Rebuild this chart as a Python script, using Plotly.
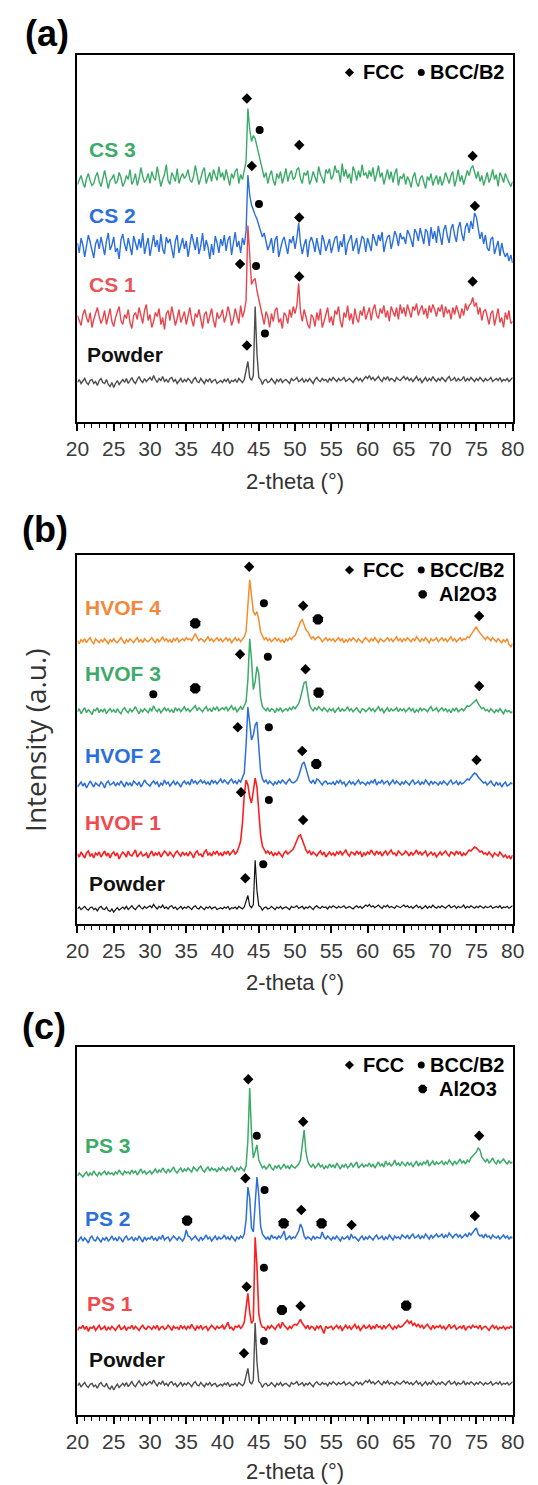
import numpy as np
import plotly.graph_objects as go

FIG_W, FIG_H = 538, 1485

# 2-theta sampling grid (deg), 0.25 deg step
two_theta = np.linspace(20, 80, 241)

# ---- diffractogram intensities (a.u., background-relative) ----
powder_counts = [
    -1, 2, -2, 0, 3, -1, -3, 1, 2, -2, 0, -4, 1, 3, -1, -2, 2, -3, -5, -1,
    -6, -2, 1, -3, 0, 2, -1, 3, -2, 1, 4, 0, -2, 2, 5, 1, -1, 3, 0, 2,
    4, 1, 6, 2, -1, 3, 1, 5, 0, 2, -1, 3, 4, 0, 2, -2, 1, 3, -1, 2,
    0, 3, 1, -2, 2, 4, 0, -1, 3, 1, -2, 2, 0, 3, -1, 1, 2, -2, 0, 1,
    -1, 2, 0, 3, -2, 1, 0, 2, -1, 3, 1, -1, 2, 12, 20, 4, 1, 6, 75, 28,
    4, 2, -3, 1, 2, -1, 0, 3, 1, -2, 2, 0, 3, -1, 1, 2, 0, -2, 3, 1,
    2, 4, 0, 1, 3, -1, 2, 0, 3, 1, -2, 2, 4, 1, 0, 3, 1, 2, -1, 3,
    1, 4, 2, 0, 3, 1, 2, 4, 0, 2, 3, 1, -1, 2, 4, 1, 3, 0, 2, 5,
    3, 6, 2, 4, 1, 3, 5, 2, 0, 4, 2, 5, 1, 3, 2, 0, 4, 2, 1, 3,
    5, 2, 4, 1, 3, 0, 2, 5, 1, 3, -1, 2, 4, 0, 3, 1, 5, 2, 0, 3,
    1, 4, 2, 0, 3, 5, 1, 2, 4, 0, 3, 1, 2, 5, 0, 3, 1, 4, 2, 0,
    3, 1, 4, 2, 0, 3, 1, 2, 4, 0, 2, 3, 1, 4, 0, 2, 1, 3, 0, 2,
    4,
]

cs1_counts = [
    3, -2, -7, 4, 9, 1, -4, 6, -9, -1, 5, 11, 2, -5, 0, 8, -6, 3, 10, -3,
    -8, 1, 7, 12, -2, -6, 4, 0, 9, -4, -10, 3, 6, -1, 11, 2, -5, 8, 14, -2,
    4, -9, -3, 6, 2, 10, -6, 1, -11, 5, 8, -2, 12, 3, -7, 0, 9, -4, 2, 7,
    -6, 3, 11, -1, -8, 5, 1, 9, -3, -10, 4, 7, -5, 2, 10, -2, -9, 6, 0, 3,
    9, -4, 2, 12, 5, -7, -1, 10, 3, -5, 13, 1, 7, 18, 93, 58, 34, 38, 40, 28,
    20, 10, 4, -6, 7, 2, -9, 5, -3, 8, 11, -4, 0, -10, 6, 3, -5, 9, 1, 12,
    5, 13, 35, 7, -3, 9, 2, -6, -10, 4, 1, -8, 6, -2, 10, -9, -3, 5, 11, -4,
    2, -7, 8, 4, 12, -3, -9, 6, 1, 13, -2, 5, -6, 10, 0, -4, 8, 3, 12, -1,
    6, 11, -2, 9, 14, 3, 0, 10, 5, 13, 1, 8, -3, 12, 7, 2, 11, -1, 14, 5,
    11, 2, 14, 6, 1, 12, 8, 15, 3, 9, 13, 4, 10, 0, 13, 6, 14, 9, 2, 11,
    7, 14, 1, 12, 5, 9, -1, 11, 4, 13, 6, 0, 10, 3, 15, 8, 13, 15, 21, 12,
    16, 4, 11, -2, 7, 9, 2, -6, 5, 8, -7, 3, 10, -4, 1, -9, 6, -1, 8, -5,
    -3,
]

cs2_counts = [
    4, -6, 9, 2, -10, 0, 12, 5, -4, -11, 3, 8, -2, 10, 1, -8, 6, 14, -3, 2,
    10, -5, -1, -12, 7, 13, 3, -4, 9, 0, -8, 11, 5, -3, 8, -1, 14, -7, 2, 9,
    -9, 3, 12, 0, 7, -5, 13, -2, -7, 10, 4, 8, -3, -11, 6, 12, -6, 1, 9, -2,
    6, -10, 2, 13, 5, -3, 10, -7, 1, 14, -4, 7, 0, -12, 3, -8, 11, 4, -6, 8,
    1, 12, -4, 7, 11, -8, 4, 15, 0, 6, -6, 9, 2, 16, 72, 52, 42, 36, 32, 28,
    22, 18, 10, 14, 5, -3, 2, 9, -6, 7, 11, -10, -2, 6, 10, 1, -7, 8, 4, 11,
    -2, 9, 24, 4, -7, 2, 8, -10, 5, 10, 4, -5, 9, -1, -8, 12, 6, -4, 3, 8,
    -6, 1, 9, 11, -5, 6, 0, 13, -8, 3, 8, 12, -4, 2, 9, -7, 4, 11, 8, -5,
    9, 3, -4, 13, 8, 1, 12, 6, 15, -5, 4, 10, 12, -2, 6, 16, 11, 1, 14, 8,
    10, 3, 17, 13, 7, 0, 18, 14, 6, 19, 11, 3, 18, 15, 1, 20, 8, 16, 4, 21,
    12, 2, 17, 22, 11, 4, 18, 23, 12, 5, 19, 25, 13, 6, 20, 24, 14, 26, 18, 34,
    30, 18, 8, 15, 3, 12, -1, -4, 8, 10, -7, 0, 6, -9, 4, -5, -10, -6, -14, -8,
    -16,
]

cs3_counts = [
    -3, 2, 6, -1, -6, 3, 8, 1, -4, -2, 5, 9, 0, -5, 4, 11, 2, -7, 1, 3,
    7, -2, 0, 9, 4, -5, -1, 6, 2, 12, -3, 1, 8, -4, 3, 14, 5, -1, 2, 8,
    -2, 10, 4, 1, 15, 3, -5, 2, 7, 17, 1, -3, 9, 5, 0, 13, -2, 4, 8, 3,
    6, 12, 2, -1, 5, 16, 8, -3, 3, 10, 14, -2, 4, 9, 0, 12, 6, 1, 15, 4,
    9, 1, 12, 5, -4, 8, 3, 10, 13, -2, 7, 2, 11, 20, 73, 52, 40, 46, 43, 35,
    26, 17, 12, 4, 9, -2, 6, 11, 1, -4, 8, 3, 10, -2, 5, 13, 0, 7, 11, 2,
    4, 12, 14, 3, -2, 9, 6, 11, -3, 2, 10, 5, -1, 15, 7, 3, -2, 12, 8, 13,
    2, 6, 16, 9, 11, -1, 18, 5, 12, 3, 8, -2, 15, 10, 1, 11, 4, 17, 6, 9,
    3, 11, 5, 14, 0, 7, 16, 4, 9, -3, 6, 12, 2, 10, -1, 8, 13, -4, 5, 3,
    8, -3, 5, 1, -6, 4, 9, -1, -5, 3, 6, -2, -7, 5, 1, 8, -4, 2, 6, -3,
    5, -4, 1, 9, 3, -2, 6, 10, -5, 2, 12, 0, 6, -3, 4, 11, 6, 13, 16, 8,
    3, 10, 0, 6, -4, 2, 9, -1, 4, 12, 2, 7, -5, 9, 5, -1, 8, 3, -2, -5,
    0,
]

hvof1_counts = [
    1, -2, 3, 0, -3, 2, 4, -1, 1, -3, 2, 0, 3, -2, 1, 4, -1, 2, -3, 1,
    3, -1, 2, -4, 0, 3, 1, -2, 4, 0, -1, 2, 5, -2, 1, 3, -1, 0, 2, -3,
    1, 4, -1, 2, 0, 3, -2, 1, 4, 2, -1, 3, 0, -2, 2, 4, 1, -1, 3, 0,
    2, -1, 3, 1, -3, 2, 4, 0, 1, -2, 3, 5, 0, 2, -1, 3, 1, 4, 0, 2,
    -1, 3, 1, 4, 0, 2, 5, 1, 3, 8, 14, 32, 60, 75, 70, 58, 52, 64, 77, 68,
    42, 20, 9, 5, 2, 4, 1, 3, -1, 2, 0, 3, 1, -2, 2, 4, 1, 3, 4, 6,
    10, 15, 19, 20, 15, 9, 5, 2, 4, 0, 3, 1, -1, 2, 4, 0, 3, -2, 1, 3,
    0, 2, -1, 3, 1, 4, 0, 2, 5, 1, -1, 3, 2, 0, 4, 1, 3, -2, 2, 0,
    3, 1, 5, 2, 0, 4, 1, 3, -1, 2, 4, 0, 3, 5, 1, 2, -1, 4, 2, 0,
    1, 4, 2, -1, 3, 0, 2, 5, 1, 3, 0, 2, 4, -1, 1, 3, 0, 2, -2, 1,
    3, 0, 2, 4, 1, -1, 3, 2, 0, 4, 1, 3, -1, 2, 0, 3, 5, 4, 6, 8,
    7, 5, 3, 4, 1, 2, 0, 3, 1, -2, 2, 0, -1, 3, 1, -2, 0, -3, -1, -4,
    0,
]

hvof2_counts = [
    -2, 1, 3, -1, 2, -3, 0, 4, 1, -2, 2, 0, -1, 3, 1, -3, 2, 4, 0, 1,
    3, -1, 2, 0, 4, 1, -2, 3, 0, 2, -1, 4, 2, 0, 3, -2, 1, 5, 2, 0,
    -1, 2, 4, 1, 3, -2, 2, 0, 5, 1, 3, -1, 2, 4, 0, 3, 1, -2, 2, 4,
    1, 3, 0, 6, 2, 4, 1, 3, 5, 2, 4, 1, 3, 0, 5, 2, 4, 1, 3, 6,
    2, 5, 3, 1, 4, 6, 2, 4, 1, 5, 3, 7, 12, 40, 78, 62, 45, 50, 60, 63,
    38, 14, 6, 3, 5, 1, 4, 2, 0, 3, 1, 4, 2, 5, 3, 1, 4, 6, 3, 2,
    3, 5, 9, 15, 21, 23, 16, 9, 4, 2, 5, 1, 6, 5, 2, 0, 3, 4, 1, 2,
    1, 3, 0, 4, 2, 5, 1, 3, -1, 2, 4, 1, 3, 0, 2, 5, 1, 3, 2, 0,
    3, 1, 4, 2, 6, 0, 3, 2, 5, 1, 3, 4, 0, 2, 5, 1, 4, 2, 0, 3,
    1, 4, 2, 0, 3, 5, 1, 2, 4, 0, 3, 1, 5, 2, 0, 4, 1, 3, 2, 0,
    3, 1, 4, 2, 0, 3, 5, 1, 2, 4, 0, 3, 1, 2, 4, 6, 5, 8, 10, 12,
    11, 8, 6, 4, 2, 3, 0, 2, 4, 1, -1, 3, 0, 2, -2, 1, 3, -1, 0, 2,
    1,
]

hvof3_counts = [
    0, 3, -2, 1, 4, -1, 2, 0, -3, 2, 1, 4, -1, 2, 0, 3, -2, 1, 3, 0,
    2, -1, 3, 0, -2, 2, 4, 1, -1, 3, 0, 2, 5, 1, -2, 2, 0, 3, 1, -1,
    3, 1, 6, 2, 0, 3, -1, 2, 4, 1, 3, 0, 2, -1, 4, 1, 3, 0, 2, 5,
    1, 3, 0, 2, 4, 6, 1, 4, 2, 0, 3, 5, 1, 3, 0, 4, 2, 5, 1, 3,
    4, 2, 5, 1, 3, 6, 2, 4, 0, 3, 5, 2, 6, 10, 32, 73, 52, 22, 30, 45,
    38, 14, 5, 3, 1, 4, 0, 3, 2, -1, 3, 1, 4, 0, 2, 3, 1, 4, 2, 5,
    3, 5, 8, 14, 22, 29, 30, 16, 7, 3, 1, 4, 2, 5, 3, 1, 4, 2, 0, 3,
    1, 3, -1, 2, 4, 0, 3, 1, 2, 5, 1, 3, 0, 2, 4, 1, -1, 3, 2, 0,
    2, 4, 1, 3, 0, 2, 5, 1, 3, -1, 2, 4, 0, 3, 1, 2, 4, 0, 3, 1,
    3, 0, 2, 4, 1, 3, -1, 2, 0, 4, 1, 3, 2, 0, 3, 5, 1, 2, 4, 0,
    2, 4, 1, 3, 0, 2, -1, 3, 1, 4, 0, 2, 3, 1, 4, 6, 5, 7, 9, 11,
    12, 8, 5, 3, 4, 1, 2, 0, 3, 1, -1, 2, 0, 3, 1, -2, 2, 0, 1, -1,
    0,
]

hvof4_counts = [
    1, -2, 2, 0, 3, -1, 2, 4, 0, -2, 3, 1, -1, 2, 0, 3, 1, -2, 2, 0,
    3, 0, -1, 2, 4, 1, -2, 2, 0, 3, 1, -1, 2, 4, 0, 2, -1, 3, 1, 0,
    2, 4, 1, -1, 3, 0, 2, 5, 1, 3, 0, 2, -1, 3, 1, 4, 0, 2, 3, 1,
    4, 2, 3, 1, 5, 8, 4, 1, 3, 2, 0, 3, 5, 1, 3, 0, 2, 4, 1, 3,
    0, 2, 4, 1, 3, -1, 2, 4, 1, 3, 0, 2, 5, 10, 38, 62, 46, 30, 27, 30,
    22, 10, 6, 2, 4, 1, 3, 0, 2, 4, 1, 3, 0, 2, -1, 3, 1, 4, 2, 5,
    6, 10, 15, 20, 22, 17, 12, 10, 6, 3, 5, 2, 4, 5, 3, 0, 2, 4, 1, 3,
    1, 3, 0, 2, 4, 1, 3, -1, 2, 0, 3, 1, 4, 2, 0, 3, 1, -1, 2, 4,
    2, 0, 3, 1, 4, 2, -1, 3, 1, 0, 2, 4, 1, 3, 0, 2, 5, 1, 3, 0,
    3, 1, 4, 2, 0, 3, 1, 5, 2, 0, 3, 1, 4, 2, -1, 3, 1, 2, 4, 0,
    2, 4, 1, 3, 0, 2, 5, 1, 3, 0, 2, 4, 1, 3, 2, 5, 4, 7, 9, 12,
    15, 11, 9, 7, 4, 2, 5, 3, 1, 4, 2, 0, 3, 1, -1, 2, 0, 3, -3, -5,
    -2,
]

ps1_counts = [
    -2, 1, 0, 3, -1, 2, -3, 1, 0, 2, -2, 1, 3, -1, 0, 2, -2, 1, -1, 2,
    0, -2, 1, 3, -1, 0, 2, -2, 1, 0, 3, -1, 2, 0, -2, 1, 3, 0, -1, 2,
    1, -1, 2, 0, 3, -2, 1, 2, -1, 0, 3, 1, -2, 2, 0, 1, -1, 3, 0, 2,
    -1, 2, 0, 4, 1, -2, 2, 0, 3, -1, 1, 2, -2, 0, 3, 1, -1, 2, 0, 1,
    3, -1, 2, 6, 0, 1, -2, 2, 1, 3, 0, 2, 6, 24, 35, 16, 5, 8, 91, 62,
    15, 5, 1, 1, -2, 2, 0, 3, 1, -1, 2, 4, 0, 6, 3, 1, -1, 2, 0, 3,
    4, 3, 6, 9, 5, 2, 0, 3, -1, 2, 1, -2, 2, 0, 3, -1, -5, 2, 0, 1,
    2, -1, 1, 3, 0, 2, -2, 1, 3, 0, 2, -1, 1, 4, 0, 2, -2, 1, 3, 0,
    1, 3, -1, 2, 0, 4, 1, 2, -1, 3, 0, 2, 4, 1, -1, 2, 0, 3, 1, 2,
    4, 6, 8, 5, 7, 3, 5, 2, 4, 1, 3, 0, 2, 4, 1, -1, 3, 0, 2, 1,
    3, 0, 2, -1, 1, 4, 0, 2, 3, -1, 1, 2, 0, 3, -2, 1, 2, 0, 3, 1,
    2, 0, 3, -1, 1, 2, 0, -2, 1, 3, 0, 2, -1, 1, 0, 2, -1, 1, 0, 2,
    0,
]

ps2_counts = [
    -2, 1, 3, -1, 2, 0, -3, 2, 4, 0, -1, 3, 1, -2, 2, 0, 3, -1, 1, 4,
    0, 2, -1, 3, 1, -2, 2, 4, 0, 1, 3, -1, 2, 0, 4, 1, -2, 3, 0, 2,
    1, 4, 0, 2, -1, 3, 1, 5, 0, 2, 3, -1, 1, 4, 2, 0, 3, 1, -1, 2,
    10, 4, 3, 0, 2, 4, 1, -1, 3, 0, 2, 5, 1, 3, -1, 2, 4, 0, 3, 1,
    2, 5, 1, 3, 0, 4, 2, -1, 3, 1, 4, 2, 6, 20, 53, 42, 12, 8, 36, 63,
    45, 14, 6, 4, 1, 3, 0, 5, 2, 3, 1, 4, 2, 5, 9, 0, 2, 4, 1, 3,
    2, 5, 9, 16, 12, 4, 1, 3, 2, 0, 4, 1, 3, 2, 2, 8, 3, 1, 4, 2,
    0, 3, 1, 4, 2, -1, 3, 1, 2, 4, 0, 6, 2, 3, 1, -1, 2, 4, 0, 3,
    1, 4, 2, 0, 3, 5, 1, 2, 4, 0, 3, 1, 5, 2, 0, 4, 2, 3, 1, 5,
    3, 2, 5, 1, 4, 6, 2, 3, 5, 1, 4, 2, 6, 3, 1, 5, 2, 4, 6, 3,
    4, 6, 2, 5, 3, 7, 4, 2, 5, 6, 3, 5, 2, 4, 6, 3, 7, 5, 8, 10,
    12, 6, 4, 5, 2, 6, 3, 4, 1, 5, 3, 2, 4, 1, 3, 5, 2, 4, 1, 3,
    2,
]

ps3_counts = [
    -6, -3, -5, -7, -4, -2, -6, -3, -5, -1, -4, -6, -2, -5, -3, -1, -5, -2, -4, -3,
    -5, -2, -4, 0, -3, -5, -1, -3, -2, -4, 0, -3, -1, -5, -2, 1, -3, -1, -4, -2,
    -1, -4, -2, 1, -3, 0, -2, 2, -1, -3, 1, -2, 0, 3, -1, -3, 0, 2, -2, 1,
    -1, 2, 0, -2, 3, 1, -1, 2, 4, 0, -2, 1, 3, -1, 2, 0, 1, -2, 2, 0,
    3, 1, -1, 2, 0, 4, 1, -2, 2, 0, 3, 1, -1, 4, 30, 82, 36, 12, 20, 25,
    10, 5, 2, 4, 1, 3, 6, 2, 0, 4, 2, 5, 1, 3, 6, 2, 4, 1, 5, 3,
    2, 4, 6, 10, 28, 40, 18, 9, 5, 3, 6, 2, 4, 7, 3, 5, 1, 4, 2, 6,
    3, 5, 2, 7, 4, 1, 5, 3, 6, 2, 4, 7, 3, 5, 8, 2, 4, 6, 3, 5,
    4, 7, 3, 6, 2, 5, 8, 4, 6, 3, 9, 5, 7, 4, 6, 10, 5, 7, 4, 8,
    6, 4, 8, 5, 7, 3, 6, 9, 4, 7, 5, 8, 6, 10, 4, 7, 9, 5, 8, 6,
    7, 9, 5, 8, 6, 10, 7, 5, 9, 6, 8, 11, 7, 9, 6, 10, 8, 12, 14, 16,
    18, 22, 20, 13, 10, 8, 11, 7, 9, 12, 8, 6, 10, 7, 9, 11, 8, 6, 9, 7,
    8,
]

# ---- phase indexing marks: 2-theta position and height in each panel ----
a_fcc_2theta = [43.36, 50.58, 74.49, 44.04, 50.58, 74.80, 42.42, 50.58, 74.49, 43.36]
a_fcc_level = [323, 276.5, 265.5, 255.5, 204, 215.5, 157.5, 145, 140, 76]
a_bcc_2theta = [45.12, 45.03, 44.63, 45.85]
a_bcc_level = [291.5, 217.5, 155.5, 88]
a_al2o3_2theta = []
a_al2o3_level = []

b_fcc_2theta = [43.68, 51.12, 75.39, 42.42, 51.44, 75.39, 42.10, 50.99, 75.03, 42.55, 51.12, 43.14]
b_fcc_level = [356.8, 317.8, 307.5, 269.2, 254.2, 237.5, 196.2, 172.5, 163.5, 131.2, 103.5, 45.2]
b_bcc_2theta = [45.71, 46.25, 30.46, 46.39, 46.39, 45.62]
b_bcc_level = [320.2, 266.8, 229.2, 196.2, 123.5, 59.2]
b_al2o3_2theta = [36.24, 53.15, 36.24, 53.24, 52.93]
b_al2o3_level = [300.2, 304.2, 235.2, 230.8, 159.5]

c_fcc_2theta = [43.55, 51.12, 75.39, 43.16, 50.86, 57.8, 74.80, 43.32, 50.76, 42.96]
c_fcc_level = [335.2, 292.8, 278.8, 236.2, 204.5, 189.5, 198.5, 127.8, 108.5, 61.2]
c_bcc_2theta = [44.72, 45.80, 45.71, 45.71]
c_bcc_level = [278.8, 224.5, 146.8, 73.5]
c_al2o3_2theta = [35.12, 48.43, 53.66, 48.19, 65.33]
c_al2o3_level = [193.8, 191.2, 191.2, 104.5, 108.8]

for name, arr in [("powder", powder_counts), ("cs1", cs1_counts), ("cs2", cs2_counts),
                  ("cs3", cs3_counts), ("hvof1", hvof1_counts), ("hvof2", hvof2_counts),
                  ("hvof3", hvof3_counts), ("hvof4", hvof4_counts), ("ps1", ps1_counts),
                  ("ps2", ps2_counts), ("ps3", ps3_counts)]:
    if len(arr) != len(two_theta):
        raise ValueError(f"{name}: {len(arr)} points")

# ---- styling ----
GREEN = "#3caa69"
BLUE = "#2b6fdc"
RED_SOFT = "#e8454d"
RED = "#ff1e1e"
ORANGE = "#f68c2c"
GRAY = "#4d4d4d"
BLACK = "#111111"

FONT = "Arial, Liberation Sans, sans-serif"
PLOT_LEFT, PLOT_RIGHT = 68.5, 524.0

panels = [
    dict(tag="(a)", tag_x=11, tag_y=33.5, top=54.5, bottom=421.5, title_y=481,
         series=[
             ("CS 3", cs3_counts, 1.0, 240.0, GREEN, GREEN, 21.35, 272.3, 1.4),
             ("CS 2", cs2_counts, 1.0, 174.5, BLUE, BLUE, 21.35, 205.7, 1.4),
             ("CS 1", cs1_counts, 1.0, 103.0, RED_SOFT, "#ec5359", 21.35, 136.5, 1.4),
             ("Powder", powder_counts, 1.0, 40.0, GRAY, BLACK, 21.0, 67.3, 1.4),
         ],
         fcc=(a_fcc_2theta, a_fcc_level), bcc=(a_bcc_2theta, a_bcc_level),
         al2o3=(a_al2o3_2theta, a_al2o3_level), key_rows=(349,)),
    dict(tag="(b)", tag_x=8, tag_y=529, top=554.5, bottom=923.5, title_y=982,
         series=[
             ("HVOF 4", hvof4_counts, 1.0, 281.8, ORANGE, "#f3883a", 20.82, 316.2, 1.5),
             ("HVOF 3", hvof3_counts, 1.0, 211.8, GREEN, GREEN, 20.82, 250.2, 1.5),
             ("HVOF 2", hvof2_counts, 1.0, 138.5, BLUE, BLUE, 20.82, 168.5, 1.5),
             ("HVOF 1", hvof1_counts, 1.0, 68.5, RED, "#f2494c", 20.82, 101.0, 1.6),
             ("Powder", powder_counts, 0.64, 15.2, BLACK, BLACK, 21.25, 40.5, 1.2),
         ],
         fcc=(b_fcc_2theta, b_fcc_level), bcc=(b_bcc_2theta, b_bcc_level),
         al2o3=(b_al2o3_2theta, b_al2o3_level), key_rows=(353.5, 329.2)),
    dict(tag="(c)", tag_x=8, tag_y=1026.5, top=1046.5, bottom=1414.5, title_y=1471.7,
         series=[
             ("PS 3", ps3_counts, 1.0, 244.5, GREEN, GREEN, 20.82, 269.5, 1.5),
             ("PS 2", ps2_counts, 1.0, 174.5, BLUE, BLUE, 20.82, 196.2, 1.5),
             ("PS 1", ps1_counts, 1.0, 86.2, RED, "#f2494c", 21.1, 111.2, 1.6),
             ("Powder", powder_counts, 0.83, 29.5, GRAY, BLACK, 21.25, 55.2, 1.4),
         ],
         fcc=(c_fcc_2theta, c_fcc_level), bcc=(c_bcc_2theta, c_bcc_level),
         al2o3=(c_al2o3_2theta, c_al2o3_level), key_rows=(349.5, 325.5)),
]

fig = go.Figure()
annotations = []
layout_axes = {}

for i, p in enumerate(panels, start=1):
    xa = "x" if i == 1 else f"x{i}"
    ya = "y" if i == 1 else f"y{i}"
    height = p["bottom"] - p["top"]

    # diffractograms, top pattern first so lower ones sit in front
    for label, counts, scale, offset, color, lcolor, lx, ly, lw in p["series"]:
        fig.add_trace(go.Scatter(
            x=two_theta, y=offset + scale * np.asarray(counts, dtype=float),
            mode="lines", line=dict(color=color, width=lw),
            xaxis=xa, yaxis=ya, hoverinfo="skip"))
        annotations.append(dict(
            x=lx, y=ly, xref=xa, yref=ya, text=label, showarrow=False,
            xanchor="left", yanchor="middle",
            font=dict(family=FONT, size=21, color=lcolor, weight="bold")))

    # phase marks
    for (xs, ys), sym, size in [(p["fcc"], "diamond", 8), (p["bcc"], "circle", 8),
                                (p["al2o3"], "octagon", 11)]:
        if xs:
            fig.add_trace(go.Scatter(
                x=xs, y=ys, mode="markers", xaxis=xa, yaxis=ya, hoverinfo="skip",
                marker=dict(symbol=sym, size=size, color="black", line=dict(width=0))))

    # phase key in the upper right corner
    row1 = p["key_rows"][0]
    fig.add_trace(go.Scatter(x=[57.5], y=[row1], mode="markers", xaxis=xa, yaxis=ya,
                             hoverinfo="skip",
                             marker=dict(symbol="diamond", size=7, color="black")))
    fig.add_trace(go.Scatter(x=[67.4], y=[row1], mode="markers", xaxis=xa, yaxis=ya,
                             hoverinfo="skip",
                             marker=dict(symbol="circle", size=7, color="black")))
    annotations.append(dict(x=59.1, y=row1, xref=xa, yref=ya, text="FCC", showarrow=False,
                            xanchor="left", yanchor="middle",
                            font=dict(family=FONT, size=20, color="black", weight="bold")))
    annotations.append(dict(x=68.4, y=row1, xref=xa, yref=ya, text="BCC/B2", showarrow=False,
                            xanchor="left", yanchor="middle",
                            font=dict(family=FONT, size=20, color="black", weight="bold")))
    if len(p["key_rows"]) > 1:
        row2 = p["key_rows"][1]
        fig.add_trace(go.Scatter(x=[67.6], y=[row2], mode="markers", xaxis=xa, yaxis=ya,
                                 hoverinfo="skip",
                                 marker=dict(symbol="octagon", size=9, color="black")))
        annotations.append(dict(x=69.6, y=row2, xref=xa, yref=ya, text="Al2O3", showarrow=False,
                                xanchor="left", yanchor="middle",
                                font=dict(family=FONT, size=20, color="black", weight="bold")))

    # panel tag and axis title
    annotations.append(dict(x=p["tag_x"] / FIG_W, y=1 - p["tag_y"] / FIG_H, xref="paper",
                            yref="paper", text=p["tag"], showarrow=False, xanchor="left",
                            yanchor="middle",
                            font=dict(family=FONT, size=36, color="black", weight="bold")))
    annotations.append(dict(x=(PLOT_LEFT + PLOT_RIGHT) / 2 / FIG_W, y=1 - p["title_y"] / FIG_H,
                            xref="paper", yref="paper", text="2-theta (°)", showarrow=False,
                            xanchor="center", yanchor="middle",
                            font=dict(family=FONT, size=22, color="#333333")))

    layout_axes["xaxis" if i == 1 else f"xaxis{i}"] = dict(
        domain=[PLOT_LEFT / FIG_W, PLOT_RIGHT / FIG_W], anchor=ya,
        range=[20, 80], tick0=20, dtick=5, ticks="outside", ticklen=7, tickwidth=1.5,
        tickcolor="black", showline=True, linewidth=2, linecolor="black", mirror=True,
        showgrid=False, zeroline=False,
        tickfont=dict(family=FONT, size=21, color="#3a3a3a"),
        minor=dict(ticks="outside", dtick=1, ticklen=4, tickwidth=1, tickcolor="black",
                   showgrid=False))
    layout_axes["yaxis" if i == 1 else f"yaxis{i}"] = dict(
        domain=[1 - p["bottom"] / FIG_H, 1 - p["top"] / FIG_H], anchor=xa,
        range=[0, height], showline=True, linewidth=2, linecolor="black", mirror=True,
        ticks="", showticklabels=False, showgrid=False, zeroline=False)

# shared intensity label
annotations.append(dict(x=24 / FIG_W, y=1 - 740 / FIG_H, xref="paper", yref="paper",
                        text="Intensity (a.u.)", textangle=-90, showarrow=False,
                        xanchor="center", yanchor="middle",
                        font=dict(family="Open Sans, sans-serif", size=28, color="#333333")))

fig.update_layout(
    width=FIG_W, height=FIG_H, margin=dict(l=0, r=0, t=0, b=0),
    paper_bgcolor="white", plot_bgcolor="white", showlegend=False,
    annotations=annotations, **layout_axes)

fig.write_html("out.html", config={"displayModeBar": False})
